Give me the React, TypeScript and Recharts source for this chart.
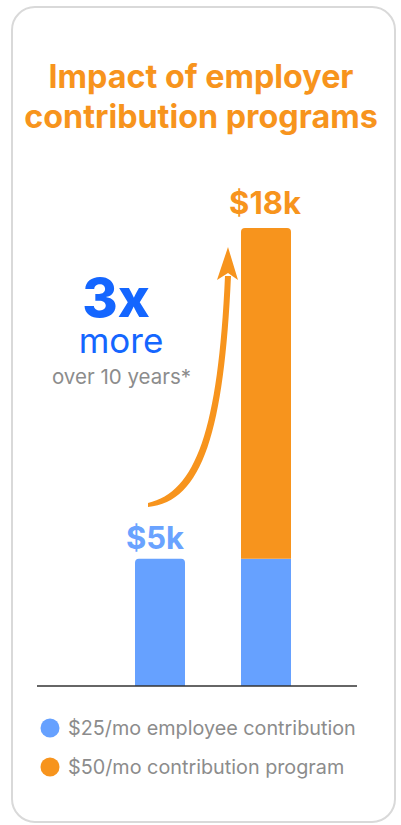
import React from "react";
import { BarChart, Bar, XAxis, YAxis, LabelList, Rectangle, ReferenceLine } from "recharts";

const categories = ["$25/mo employee", "$50/mo program"];
const employeeValues = [5, 5];
const programValues = [0, 13];
const totalLabels = ["$5k", "$18k"];
const seriesNames = ["$25/mo employee contribution", "$50/mo contribution program"];

const BLUE = "#66A1FF";
const ORANGE = "#F7941D";
const FONT = "Inter, 'Noto Sans', sans-serif";

const data = categories.map((c, i) => ({
  name: c,
  employee: employeeValues[i],
  program: programValues[i],
}));

const EmployeeShape = (props: any) => (
  <Rectangle {...props} radius={props.index === 0 ? [4, 4, 0, 0] : 0} />
);

const ProgramShape = (props: any) =>
  props.height > 0 ? <Rectangle {...props} radius={[4, 4, 0, 0]} /> : null;

const makeLabel = (seriesIdx: number, color: string, gap: number, dx: number) => (props: any) => {
  const { x, y, width, index } = props;
  const showIdx = seriesIdx === 0 ? 0 : 1;
  if (index !== showIdx) return null;
  return (
    <text
      x={x + width / 2 + dx}
      y={y - gap}
      textAnchor="middle"
      fill={color}
      style={{ fontFamily: FONT, fontWeight: 700, fontSize: 31 }}
    >
      {totalLabels[index]}
    </text>
  );
};

export default function App() {
  return (
    <div style={{ position: "absolute", left: 0, top: 0, width: 401, height: 825 }}>
      <div
        style={{
          position: "absolute",
          left: 11,
          top: 6,
          width: 385,
          height: 817,
          boxSizing: "border-box",
          border: "2px solid #D9D9D9",
          borderRadius: 24,
          background: "#fff",
        }}
      />
      <div style={{ position: "absolute", left: 0, top: 0 }}>
        <BarChart
          width={401}
          height={825}
          data={data}
          margin={{ top: 228, right: 44, bottom: 139, left: 37 }}
          barSize={50}
        >
          <XAxis
            dataKey="name"
            tick={false}
            tickLine={false}
            axisLine={false}
            height={0}
            padding={{ left: 70, right: 38 }}
          />
          <YAxis hide domain={[0, 18]} />
          <Bar dataKey="employee" stackId="a" fill={BLUE} shape={EmployeeShape} isAnimationActive={false}>
            <LabelList dataKey="employee" content={makeLabel(0, "#6AA3FF", 10, -5)} />
          </Bar>
          <Bar dataKey="program" stackId="a" fill={ORANGE} shape={ProgramShape} isAnimationActive={false}>
            <LabelList dataKey="program" content={makeLabel(1, ORANGE, 14, -1)} />
          </Bar>
          <ReferenceLine y={0} stroke="#333" strokeWidth={1.5} />
        </BarChart>
      </div>
      <svg
        width={401}
        height={825}
        style={{ position: "absolute", left: 0, top: 0, pointerEvents: "none" }}
      >
        <text x={201} y={88} textAnchor="middle" fill={ORANGE} style={{ fontFamily: FONT, fontWeight: 700, fontSize: 32.3 }}>
          Impact of employer
        </text>
        <text x={201} y={128} textAnchor="middle" fill={ORANGE} style={{ fontFamily: FONT, fontWeight: 700, fontSize: 32.3 }}>
          contribution programs
        </text>
        <text x={116} y={317} textAnchor="middle" fill="#1466FF" style={{ fontFamily: FONT, fontWeight: 800, fontSize: 54 }}>
          3x
        </text>
        <text x={121} y={353} textAnchor="middle" fill="#1466FF" style={{ fontFamily: FONT, fontWeight: 400, fontSize: 35 }}>
          more
        </text>
        <text x={121.5} y={384} textAnchor="middle" fill="#8C8C8C" style={{ fontFamily: FONT, fontWeight: 400, fontSize: 20.5 }}>
          over 10 years*
        </text>
        <path
          d="M148,507 C203,502 224,430 231,276 L225,276 C218,430 196,492 148,503 Z"
          fill={ORANGE}
        />
        <path d="M228,247 L238,280 L228,273 L217,280 Z" fill={ORANGE} />
        <circle cx={50} cy={728} r={9.5} fill={BLUE} />
        <text x={68} y={734.5} fill="#8C8C8C" style={{ fontFamily: FONT, fontSize: 19.8 }}>
          {seriesNames[0]}
        </text>
        <circle cx={50} cy={767} r={9.5} fill={ORANGE} />
        <text x={68} y={773.5} fill="#8C8C8C" style={{ fontFamily: FONT, fontSize: 19.8 }}>
          {seriesNames[1]}
        </text>
      </svg>
    </div>
  );
}
